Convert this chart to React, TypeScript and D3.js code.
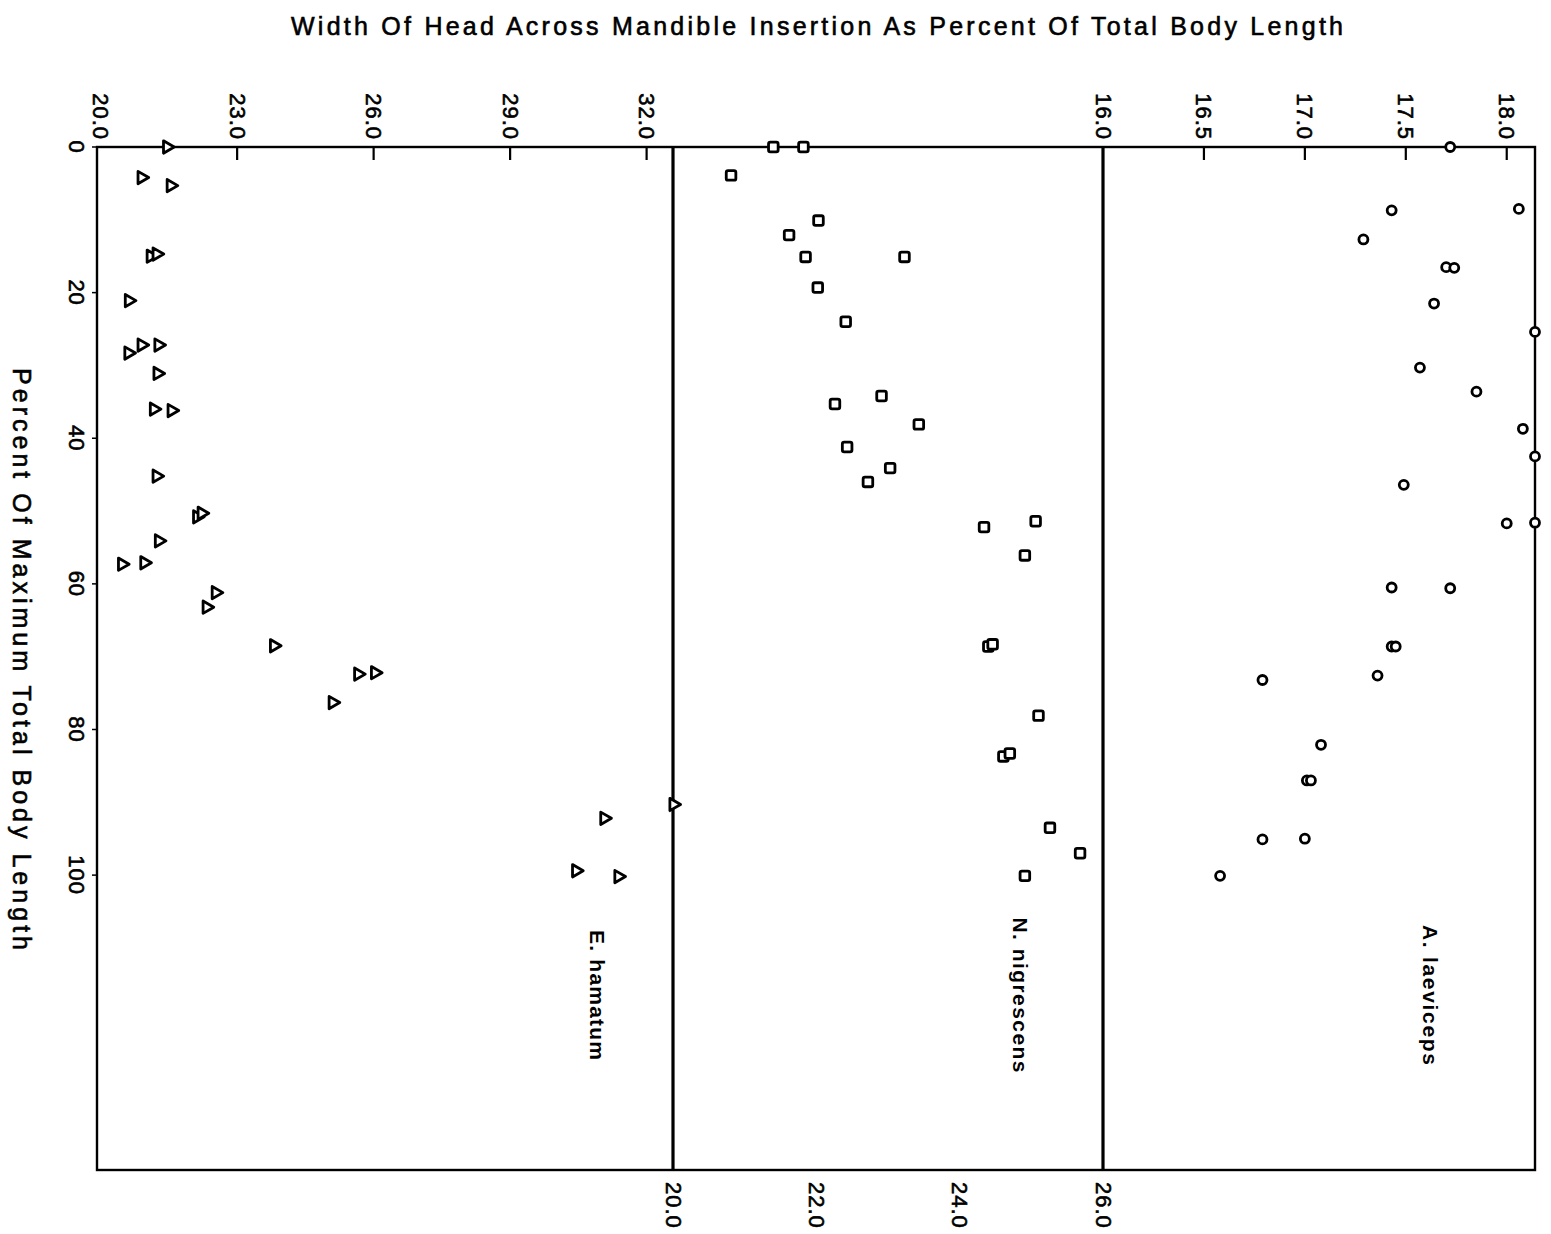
import React from 'react';
import * as d3 from 'd3';

// percent of maximum total body length (vertical axis)
const pctTicks = [0, 20, 40, 60, 80, 100];

// E. hamatum
const hamatumPct = [0, 4.2, 5.3, 15.0, 14.7, 21.1, 27.2, 27.2, 28.3, 31.1, 36.0, 36.2, 45.2, 50.8, 50.3, 54.1, 57.3, 57.1, 61.2, 63.2, 68.5, 72.4, 72.2, 76.3, 90.3, 92.2, 99.4, 100.2];
const hamatumWidth = [21.46, 20.9, 21.54, 21.1, 21.23, 20.62, 20.9, 21.27, 20.61, 21.25, 21.17, 21.56, 21.23, 22.12, 22.22, 21.28, 20.47, 20.96, 22.53, 22.33, 23.81, 25.66, 26.03, 25.1, 32.59, 31.07, 30.45, 31.38];
const hamatumTicks = [20, 23, 26, 29, 32];

// N. nigrescens
const nigrescensPct = [0, 0, 3.9, 10.1, 12.1, 15.1, 15.1, 19.3, 24.0, 34.2, 35.3, 38.1, 41.2, 44.1, 46.0, 52.2, 51.4, 56.1, 68.6, 68.3, 78.1, 83.7, 83.3, 93.5, 97.0, 100.1];
const nigrescensWidth = [21.4, 21.82, 20.81, 22.03, 21.62, 21.85, 23.23, 22.02, 22.41, 22.91, 22.26, 23.43, 22.43, 23.03, 22.72, 24.34, 25.06, 24.91, 24.4, 24.46, 25.1, 24.61, 24.7, 25.26, 25.68, 24.91];
const nigrescensTicks = [20, 22, 24, 26];

// A. laeviceps
const laevicepsPct = [0, 8.7, 8.5, 12.7, 16.5, 16.6, 21.5, 25.4, 30.3, 33.6, 38.7, 42.5, 46.4, 51.7, 51.6, 60.5, 60.6, 68.6, 68.6, 72.6, 73.2, 82.1, 87.0, 87.0, 95.1, 95.0, 100.1];
const laevicepsWidth = [17.72, 17.43, 18.06, 17.29, 17.7, 17.74, 17.64, 18.14, 17.57, 17.85, 18.08, 18.14, 17.49, 18.0, 18.14, 17.43, 17.72, 17.43, 17.45, 17.36, 16.79, 17.08, 17.01, 17.03, 16.79, 17.0, 16.58];
const laevicepsTicks = [16, 16.5, 17, 17.5, 18];

const width = 1551;
const height = 1234;
const left = 97;
const right = 1535;
const top = 147;
const bottom = 1170;
const div1 = 673;
const div2 = 1103;

const font = "'Liberation Sans', Arial, sans-serif";
// a little outline to thicken the lettering like the drafted original
const heavy = { stroke: 'black', strokeWidth: 0.6 };

const y = d3.scaleLinear().domain([0, 140.5]).range([top, bottom]);

const xHam = d3.scaleLinear().domain([19.92, 32.58]).range([left, div1]);
const xNig = d3.scaleLinear().domain([20, 26]).range([div1, div2]);
const xLae = d3.scaleLinear().domain([16.0, 18.14]).range([div2, right]);

const triangle = d3.symbol(d3.symbolTriangle, 66)();

const Marker = ({ kind, cx, cy }: { kind: string; cx: number; cy: number }) => {
  const common = { fill: 'white', stroke: 'black', strokeWidth: 2.8 };
  if (kind === 'triangle') {
    return <path d={triangle!} transform={`translate(${cx},${cy}) rotate(90)`} {...common} strokeLinejoin="round" />;
  }
  if (kind === 'square') {
    return <rect x={cx - 4.8} y={cy - 4.8} width={9.6} height={9.6} rx={1.8} {...common} />;
  }
  return <circle cx={cx} cy={cy} r={4.5} {...common} />;
};

const panels = [
  { name: 'E. hamatum', kind: 'triangle', x: xHam, pct: hamatumPct, w: hamatumWidth, labelX: 597, labelLen: 130 },
  { name: 'N. nigrescens', kind: 'square', x: xNig, pct: nigrescensPct, w: nigrescensWidth, labelX: 1020, labelLen: 155 },
  { name: 'A. laeviceps', kind: 'circle', x: xLae, pct: laevicepsPct, w: laevicepsWidth, labelX: 1430, labelLen: 140 },
];

const TickLabel = ({ x, yy, anchor, text }: { x: number; yy: number; anchor: string; text: string }) => (
  <text
    transform={`translate(${x},${yy}) rotate(90)`}
    textAnchor={anchor}
    dominantBaseline="central"
    fontSize={22}
    letterSpacing={1}
    fontFamily={font}
    {...heavy}
  >
    {text}
  </text>
);

export default function App() {
  return (
    <svg
      width={width}
      height={height}
      viewBox={`0 0 ${width} ${height}`}
      style={{ position: 'absolute', left: 0, top: 0, background: 'white' }}
    >
      {/* title */}
      <text x={817} y={35} textAnchor="middle" fontSize={25} fontFamily={font} textLength={1052} lengthAdjust="spacing" {...heavy}>
        Width Of Head Across Mandible Insertion As Percent Of Total Body Length
      </text>
      <text
        transform={`translate(22,${(368 + 950) / 2}) rotate(90)`}
        textAnchor="middle"
        dominantBaseline="central"
        fontSize={25}
        fontFamily={font}
        textLength={582}
        lengthAdjust="spacing"
        {...heavy}
      >
        Percent Of Maximum Total Body Length
      </text>

      {/* frame */}
      <rect x={left} y={top} width={right - left} height={bottom - top} fill="none" stroke="black" strokeWidth={2.4} />
      <line x1={div1} x2={div1} y1={top} y2={bottom} stroke="black" strokeWidth={3.2} />
      <line x1={div2} x2={div2} y1={top} y2={bottom} stroke="black" strokeWidth={3.2} />

      {/* vertical axis */}
      {pctTicks.map((t) => (
        <g key={t}>
          <line x1={left - 5} x2={left} y1={y(t)} y2={y(t)} stroke="black" strokeWidth={1.5} />
          <TickLabel x={76} yy={y(t)} anchor="middle" text={String(t)} />
        </g>
      ))}

      {/* top axis: E. hamatum */}
      {hamatumTicks.map((t) => (
        <g key={t}>
          {t > 20 && <line x1={xHam(t)} x2={xHam(t)} y1={top} y2={top + 13} stroke="black" strokeWidth={2.2} />}
          <TickLabel x={xHam(t)} yy={140} anchor="end" text={t.toFixed(1)} />
        </g>
      ))}

      {/* top axis: A. laeviceps */}
      {laevicepsTicks.map((t) => (
        <g key={t}>
          {t > 16 && <line x1={xLae(t)} x2={xLae(t)} y1={top} y2={top + 13} stroke="black" strokeWidth={2.2} />}
          <TickLabel x={xLae(t)} yy={140} anchor="end" text={t.toFixed(1)} />
        </g>
      ))}

      {/* bottom axis: N. nigrescens */}
      {nigrescensTicks.map((t) => (
        <TickLabel key={t} x={xNig(t)} yy={1182} anchor="start" text={t.toFixed(1)} />
      ))}

      {/* points and species labels */}
      {panels.map((p) => (
        <g key={p.name}>
          {p.pct.map((v, i) => (
            <Marker key={i} kind={p.kind} cx={p.x(p.w[i])} cy={y(v)} />
          ))}
          <text
            transform={`translate(${p.labelX},995) rotate(90)`}
            textAnchor="middle"
            dominantBaseline="central"
            fontSize={21}
            fontWeight="bold"
            fontFamily={font}
            textLength={p.labelLen}
            lengthAdjust="spacing"
          >
            {p.name}
          </text>
        </g>
      ))}
    </svg>
  );
}
